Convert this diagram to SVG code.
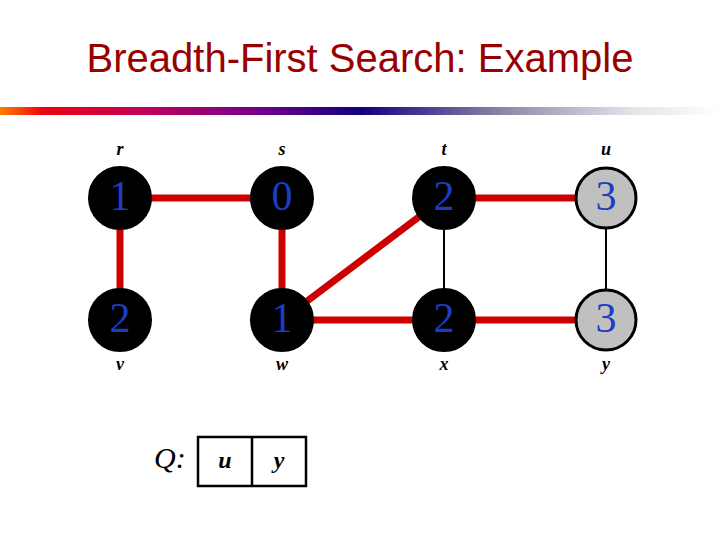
<svg xmlns="http://www.w3.org/2000/svg" width="720" height="540" viewBox="0 0 720 540">
<style>
.title{font-family:"Liberation Sans",Arial,sans-serif;font-size:40px;fill:#990000;text-anchor:middle}
.lbl{font-family:"Liberation Serif","Times New Roman",serif;font-style:italic;font-weight:bold;font-size:18px;fill:#000;text-anchor:middle}
.num{font-family:"Liberation Serif","Times New Roman",serif;font-size:42px;fill:#1c3cc4;text-anchor:middle}
.black{fill:#000;stroke:#000;stroke-width:2}
.gray{fill:#c0c0c0;stroke:#000;stroke-width:3}
.tree{stroke:#cc0000;stroke-width:7;fill:none}
.thin{stroke:#000;stroke-width:2;fill:none}
.q{font-family:"Liberation Serif","Times New Roman",serif;font-style:italic;font-size:30px;fill:#000}
.qi{font-family:"Liberation Serif","Times New Roman",serif;font-style:italic;font-weight:bold;font-size:24px;fill:#000;text-anchor:middle}
</style>
<defs>
<linearGradient id="bar" x1="0" y1="0" x2="1" y2="0">
<stop offset="0" stop-color="#ff8000"/>
<stop offset="0.06" stop-color="#ee0011"/>
<stop offset="0.2" stop-color="#c0005a"/>
<stop offset="0.35" stop-color="#78008a"/>
<stop offset="0.5" stop-color="#100080"/>
<stop offset="0.7" stop-color="#8a8aa8"/>
<stop offset="0.88" stop-color="#e4e4ea"/>
<stop offset="1" stop-color="#ffffff"/>
</linearGradient>
</defs>
<rect width="720" height="540" fill="#fff"/>
<text class="title" x="360" y="72">Breadth-First Search: Example</text>
<rect x="0" y="107" width="720" height="8" fill="url(#bar)"/>
<g id="connectors">
<line class="tree" x1="120" y1="198" x2="282" y2="198"/>
<line class="tree" x1="120" y1="198" x2="120" y2="320"/>
<line class="tree" x1="282" y1="198" x2="282" y2="320"/>
<line class="tree" x1="282" y1="320" x2="444" y2="198"/>
<line class="tree" x1="444" y1="198" x2="606" y2="198"/>
<line class="tree" x1="282" y1="320" x2="606" y2="320"/>
<line class="thin" x1="444" y1="198" x2="444" y2="320"/>
<line class="thin" x1="606" y1="198" x2="606" y2="320"/>
</g>
<g id="node-r"><circle class="black" cx="120" cy="198" r="31"/><text class="num" x="120" y="210">1</text><text class="lbl" x="120" y="155">r</text></g>
<g id="node-s"><circle class="black" cx="282" cy="198" r="31"/><text class="num" x="282" y="210">0</text><text class="lbl" x="282" y="155">s</text></g>
<g id="node-t"><circle class="black" cx="444" cy="198" r="31"/><text class="num" x="444" y="210">2</text><text class="lbl" x="444" y="155">t</text></g>
<g id="node-u"><circle class="gray" cx="606" cy="198" r="30"/><text class="num" x="606" y="210">3</text><text class="lbl" x="606" y="155">u</text></g>
<g id="node-v"><circle class="black" cx="120" cy="320" r="31"/><text class="num" x="120" y="332">2</text><text class="lbl" x="120" y="370">v</text></g>
<g id="node-w"><circle class="black" cx="282" cy="320" r="31"/><text class="num" x="282" y="332">1</text><text class="lbl" x="282" y="370">w</text></g>
<g id="node-x"><circle class="black" cx="444" cy="320" r="31"/><text class="num" x="444" y="332">2</text><text class="lbl" x="444" y="370">x</text></g>
<g id="node-y"><circle class="gray" cx="606" cy="320" r="30"/><text class="num" x="606" y="332">3</text><text class="lbl" x="606" y="370">y</text></g>
<g id="queue">
<text class="q" x="154" y="468">Q:</text>
<rect x="198" y="437" width="108" height="49" fill="none" stroke="#000" stroke-width="2.5"/>
<line x1="252" y1="437" x2="252" y2="486" stroke="#000" stroke-width="2.5"/>
<text class="qi" x="225" y="468">u</text>
<text class="qi" x="279" y="468">y</text>
</g>
</svg>
